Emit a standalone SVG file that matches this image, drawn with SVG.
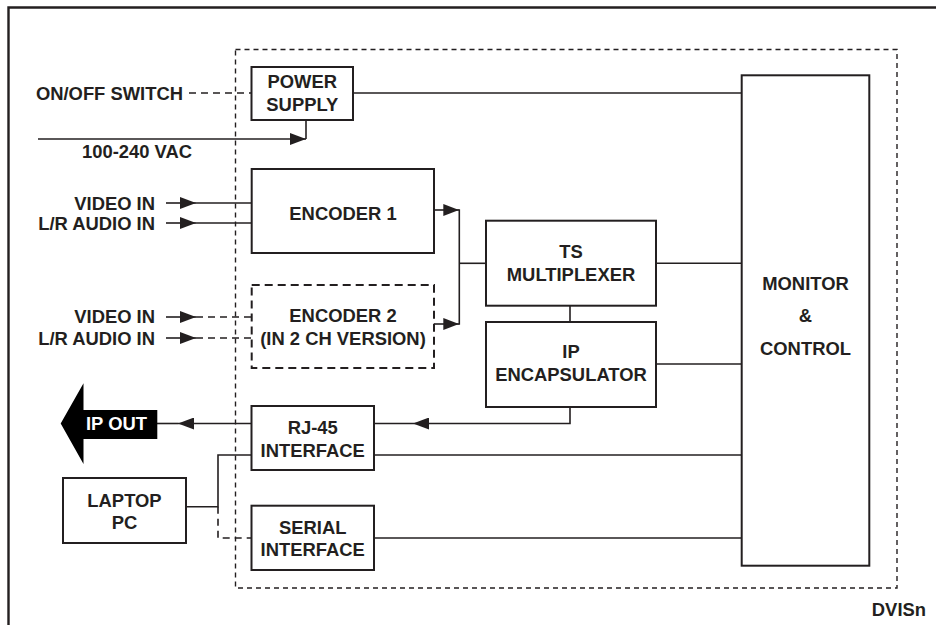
<svg xmlns="http://www.w3.org/2000/svg" width="936" height="625" viewBox="0 0 936 625">
<defs>
<marker id="ah" markerUnits="userSpaceOnUse" markerWidth="16" markerHeight="12" refX="16" refY="6" orient="auto">
<path d="M0,0 L16,6 L0,12 z" fill="#231f20"/>
</marker>
<style>
text{font-family:"Liberation Sans",Arial,sans-serif;font-weight:bold;font-size:18.4px;fill:#231f20}
.c{text-anchor:middle}
.r{text-anchor:end}
.box{fill:#fff;stroke:#231f20;stroke-width:2}
.dbox{fill:#fff;stroke:#231f20;stroke-width:2;stroke-dasharray:8 5}
.ln{fill:none;stroke:#231f20;stroke-width:1.6}
.dl{fill:none;stroke:#231f20;stroke-width:1.6;stroke-dasharray:7 5}
</style>
</defs>
<rect width="936" height="625" fill="#fff"/>
<path d="M8.5,625 L8.5,7.5 L936,7.5" fill="none" stroke="#231f20" stroke-width="2.4"/>
<rect id="container" x="235.5" y="49.5" width="661.5" height="538.5" fill="none" stroke="#231f20" stroke-width="1.4" stroke-dasharray="5 4"/>

<g id="connectors">
<path class="dl" d="M189,93 L251.5,93"/>
<path class="ln" d="M353,93 L741.7,93"/>
<path class="ln" d="M38,139 L306,139" marker-end="url(#ah)"/>
<path class="ln" d="M306,139 L306,120"/>
<path class="ln" d="M166,203 L196,203" marker-end="url(#ah)"/>
<path class="ln" d="M196,203 L251.7,203"/>
<path class="ln" d="M166,223 L196,223" marker-end="url(#ah)"/>
<path class="ln" d="M196,223 L251.7,223"/>
<path class="ln" d="M166,317 L196,317" marker-end="url(#ah)"/>
<path class="dl" d="M196,317 L251.7,317"/>
<path class="ln" d="M166,338 L196,338" marker-end="url(#ah)"/>
<path class="dl" d="M196,338 L251.7,338"/>
<path class="ln" d="M434,210 L459.3,210" marker-end="url(#ah)"/>
<path class="ln" d="M434,324 L459.3,324" marker-end="url(#ah)"/>
<path class="ln" d="M459.3,209.3 L459.3,324.7"/>
<path class="ln" d="M459.3,263.3 L486,263.3"/>
<path class="ln" d="M656,263.3 L741.7,263.3"/>
<path class="ln" d="M570,305.7 L570,322"/>
<path class="ln" d="M656,364 L741.7,364"/>
<path class="ln" d="M570,407 L570,423.5 L413,423.5" marker-end="url(#ah)"/>
<path class="ln" d="M413,423.5 L374,423.5"/>
<path class="ln" d="M251.5,423.5 L178,423.5" marker-end="url(#ah)"/>
<path class="ln" d="M178,423.5 L157,423.5"/>
<path class="ln" d="M374,455 L741.7,455"/>
<path class="ln" d="M186,506.7 L218,506.7 L218,455 L251.5,455"/>
<path class="dl" d="M218,506.7 L218,538 L251.5,538"/>
<path class="ln" d="M374,538 L741.7,538"/>
</g>

<g id="onoff"><text class="r" x="183" y="100">ON/OFF SWITCH</text></g>
<g id="vac"><text class="c" x="137" y="157.7">100-240 VAC</text></g>
<g id="inputs1">
<text class="r" x="155" y="209.6">VIDEO IN</text>
<text class="r" x="155" y="229.6">L/R AUDIO IN</text>
</g>
<g id="inputs2">
<text class="r" x="155" y="323.3">VIDEO IN</text>
<text class="r" x="155" y="344.6">L/R AUDIO IN</text>
</g>

<g id="power">
<rect class="box" x="251.5" y="67" width="101.5" height="53"/>
<text class="c" x="302.3" y="88.3">POWER</text>
<text class="c" x="302.3" y="110.6">SUPPLY</text>
</g>
<g id="encoder1">
<rect class="box" x="251.7" y="169" width="182.3" height="84"/>
<text class="c" x="343" y="220">ENCODER 1</text>
</g>
<g id="encoder2">
<rect class="dbox" x="251.7" y="285" width="182.3" height="83"/>
<text class="c" x="343" y="322.3">ENCODER 2</text>
<text class="c" x="343" y="345">(IN 2 CH VERSION)</text>
</g>
<g id="tsmux">
<rect class="box" x="486" y="220.7" width="170" height="85"/>
<text class="c" x="571" y="258">TS</text>
<text class="c" x="571" y="280.6">MULTIPLEXER</text>
</g>
<g id="ipencap">
<rect class="box" x="486" y="322" width="170" height="85"/>
<text class="c" x="571" y="358">IP</text>
<text class="c" x="571" y="381">ENCAPSULATOR</text>
</g>
<g id="monitor">
<rect class="box" x="741.7" y="75.3" width="127.6" height="490.4"/>
<text class="c" x="805.5" y="290">MONITOR</text>
<text class="c" x="805.5" y="322">&amp;</text>
<text class="c" x="805.5" y="355">CONTROL</text>
</g>
<g id="rj45">
<rect class="box" x="251.5" y="406" width="122.5" height="64"/>
<text class="c" x="312.7" y="434">RJ-45</text>
<text class="c" x="312.7" y="457">INTERFACE</text>
</g>
<g id="serial">
<rect class="box" x="251.5" y="505.7" width="122.5" height="64.3"/>
<text class="c" x="312.7" y="534">SERIAL</text>
<text class="c" x="312.7" y="556">INTERFACE</text>
</g>
<g id="laptop">
<rect class="box" x="63" y="478" width="123" height="65"/>
<text class="c" x="124.5" y="506.6">LAPTOP</text>
<text class="c" x="124.5" y="529">PC</text>
</g>
<g id="ipout">
<path d="M60.7,423.5 L83.5,383.3 L83.5,410 L157.3,410 L157.3,439 L83.5,439 L83.5,464 z" fill="#000"/>
<text x="86" y="430" style="fill:#fff">IP OUT</text>
</g>
<g id="label"><text class="r" x="926" y="616">DVISn</text></g>
</svg>
